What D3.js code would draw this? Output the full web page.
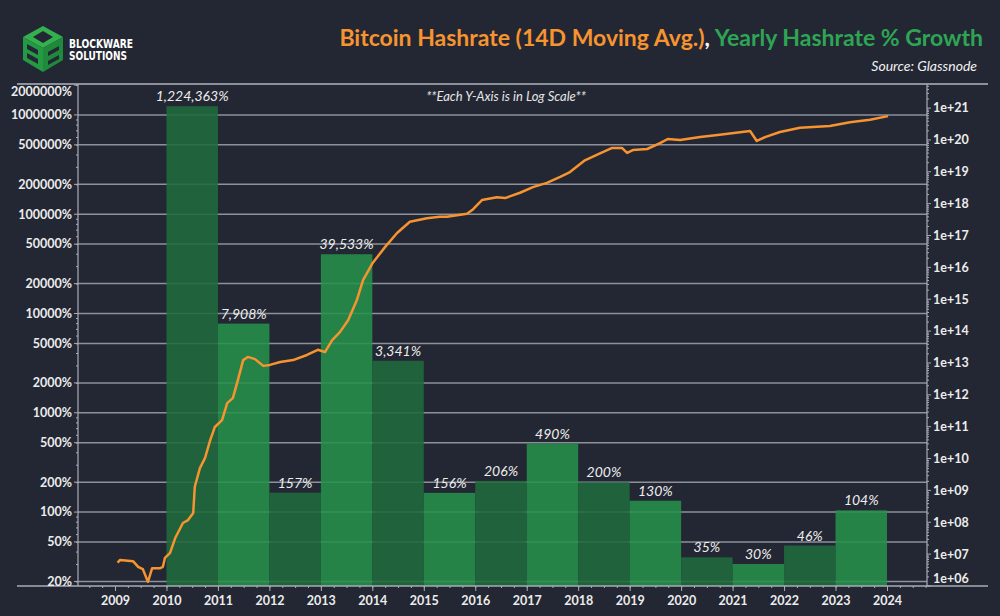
<!DOCTYPE html>
<html>
<head>
<meta charset="utf-8">
<script src="https://cdn.jsdelivr.net/npm/d3@7"></script>
<style>
body { margin: 0; background: #232733; }
svg { display: block; font-family: Lato, "Open Sans", sans-serif; }
</style>
</head>
<body>
<svg id="chart" width="1000" height="616"></svg>
<script>
// yearly hashrate growth (bars span year -> year+1)
const barYears = [2010, 2011, 2012, 2013, 2014, 2015, 2016, 2017, 2018, 2019, 2020, 2021, 2022, 2023];
const growthPct = [1224363, 7908, 157, 39533, 3341, 156, 206, 490, 200, 130, 35, 30, 46, 104];

// hashrate 14D moving avg (H/s)
const hashYears = [2009.05, 2009.10, 2009.35, 2009.45, 2009.54, 2009.64, 2009.72, 2009.87, 2009.93, 2009.97,
    2010.07, 2010.17, 2010.32, 2010.42, 2010.52, 2010.55, 2010.65, 2010.75, 2010.85, 2010.94,
    2011.08, 2011.18, 2011.29, 2011.39, 2011.49, 2011.58, 2011.72, 2011.88, 2012.01, 2012.21,
    2012.46, 2012.73, 2012.94, 2013.08, 2013.22, 2013.37, 2013.53, 2013.70, 2013.82, 2014.01,
    2014.25, 2014.48, 2014.73, 2015.06, 2015.31, 2015.45, 2015.84, 2015.94, 2016.13, 2016.42,
    2016.58, 2016.87, 2017.12, 2017.39, 2017.65, 2017.84, 2018.13, 2018.36, 2018.66, 2018.85,
    2018.95, 2019.06, 2019.34, 2019.59, 2019.74, 2019.98, 2020.37, 2020.75, 2021.34, 2021.47,
    2021.63, 2021.92, 2022.31, 2022.89, 2023.28, 2023.67, 2024.02];
const hashRate = [5.4e6, 6.6e6, 6.0e6, 4.0e6, 3.4e6, 1.35e6, 3.6e6, 3.6e6, 4.0e6, 7.6e6,
    1.1e7, 3.2e7, 9.5e7, 1.17e8, 1.95e8, 1.3e9, 5.0e9, 1.05e10, 3.8e10, 9.8e10,
    1.6e11, 5.5e11, 7.9e11, 3.0e12, 1.23e13, 1.55e13, 1.32e13, 8.1e12, 8.7e12, 1.07e13,
    1.23e13, 1.78e13, 2.6e13, 2.2e13, 5.2e13, 9.3e13, 2.2e14, 9.5e14, 4.0e15, 1.4e16,
    4.4e16, 1.2e17, 2.7e17, 3.5e17, 3.9e17, 3.9e17, 4.8e17, 6.3e17, 1.3e18, 1.6e18,
    1.5e18, 2.2e18, 3.3e18, 4.5e18, 6.9e18, 9.8e18, 2.3e19, 3.4e19, 5.6e19, 5.6e19,
    3.9e19, 4.8e19, 5.2e19, 7.9e19, 1.07e20, 1.0e20, 1.23e20, 1.45e20, 1.9e20, 9.3e19,
    1.23e20, 1.78e20, 2.4e20, 2.75e20, 3.6e20, 4.3e20, 5.6e20];

// tick labels
const xTicks = [2009, 2010, 2011, 2012, 2013, 2014, 2015, 2016, 2017, 2018, 2019, 2020, 2021, 2022, 2023, 2024];
const leftTicks = [20, 50, 100, 200, 500, 1000, 2000, 5000, 10000, 20000, 50000, 100000, 200000, 500000, 1000000, 2000000];
const rightTicks = [1e6, 1e7, 1e8, 1e9, 1e10, 1e11, 1e12, 1e13, 1e14, 1e15, 1e16, 1e17, 1e18, 1e19, 1e20, 1e21];

const orange = "#f7942f", green = "#2ea554", axisColor = "#a9adb5", textColor = "#ececec";

var svg = d3.select("#chart"),
    plot = { left: 78, right: 927, top: 84, bottom: 586 };

svg.append("rect").attr("width", 1000).attr("height", 616).attr("fill", "#232733");

var x = d3.scaleLinear().domain([2009, 2024]).range([115, 887]);
var yL = d3.scaleLog().domain([18, 2050000]).range([plot.bottom, plot.top]);
var yR = d3.scaleLog().domain([1e6, 5.7e21]).range([plot.bottom, plot.top]);

// Gridlines (left axis)
svg.append("g").selectAll("line")
    .data(leftTicks.slice(0, -1))
    .enter().append("line")
    .attr("x1", plot.left).attr("x2", plot.right)
    .attr("y1", d => yL(d)).attr("y2", d => yL(d))
    .attr("stroke", "#8d919a").attr("stroke-width", 1.5);

// Bars
svg.append("g").selectAll("rect")
    .data(barYears)
    .enter().append("rect")
    .attr("x", d => x(d))
    .attr("width", d => x(d + 1) - x(d))
    .attr("y", (d, i) => yL(growthPct[i]))
    .attr("height", (d, i) => plot.bottom - yL(growthPct[i]))
    .attr("fill", (d, i) => i % 2 === 0 ? "#1f6b3c" : "#27914b")
    .attr("opacity", 0.88);

// Bar labels
svg.append("g").selectAll("text")
    .data(barYears)
    .enter().append("text")
    .attr("x", d => x(d + 0.5))
    .attr("y", (d, i) => yL(growthPct[i]) - 5)
    .attr("text-anchor", "middle")
    .attr("font-style", "italic")
    .attr("font-size", 14)
    .attr("fill", "#eeeeee")
    .text((d, i) => d3.format(",")(growthPct[i]) + "%");

// Hashrate line
var line = d3.line()
    .x((d, i) => x(hashYears[i]))
    .y(d => yR(d))
    .curve(d3.curveLinear);

svg.append("path")
    .datum(hashRate)
    .attr("d", line)
    .attr("fill", "none")
    .attr("stroke", orange)
    .attr("stroke-width", 2.5)
    .attr("stroke-linejoin", "round");

// Frame lines
svg.append("line").attr("x1", 17).attr("x2", 988).attr("y1", plot.top).attr("y2", plot.top)
    .attr("stroke", "#8d919a").attr("stroke-width", 2);
svg.append("line").attr("x1", 17).attr("x2", 988).attr("y1", plot.bottom).attr("y2", plot.bottom)
    .attr("stroke", axisColor).attr("stroke-width", 1.5);
svg.append("line").attr("x1", plot.left).attr("x2", plot.left).attr("y1", plot.top).attr("y2", plot.bottom)
    .attr("stroke", axisColor).attr("stroke-width", 1.2);
svg.append("line").attr("x1", plot.right).attr("x2", plot.right).attr("y1", plot.top).attr("y2", plot.bottom)
    .attr("stroke", axisColor).attr("stroke-width", 1.2);

// minor tick helper for log axes
function minorLog(scale) {
    var out = [], dom = scale.domain();
    for (var e = Math.floor(Math.log10(dom[0])); e <= Math.ceil(Math.log10(dom[1])); e++) {
        for (var m = 2; m <= 9; m++) {
            var v = m * Math.pow(10, e);
            if (v >= dom[0] && v <= dom[1]) out.push(v);
        }
    }
    return out;
}

//Left Axis
var leftAxis = svg.append("g").attr("transform", `translate(${plot.left},0)`);
leftAxis.call(d3.axisLeft(yL).tickValues(minorLog(yL)).tickSize(2).tickFormat(""));
leftAxis.call(g => g.select(".domain").remove());
leftAxis.selectAll("line").attr("stroke", axisColor);
svg.append("g").selectAll("line")
    .data(leftTicks)
    .enter().append("line")
    .attr("x1", plot.left - 4).attr("x2", plot.left)
    .attr("y1", d => yL(d)).attr("y2", d => yL(d))
    .attr("stroke", axisColor);
svg.append("g").selectAll("text")
    .data(leftTicks)
    .enter().append("text")
    .attr("x", plot.left - 6)
    .attr("y", d => Math.max(yL(d), 92))
    .attr("dy", "0.35em")
    .attr("text-anchor", "end")
    .attr("font-weight", "bold")
    .attr("font-size", 12.5)
    .attr("fill", textColor)
    .text(d => d + "%");

//Right Axis
var rightAxis = svg.append("g").attr("transform", `translate(${plot.right},0)`);
rightAxis.call(d3.axisRight(yR).tickValues(minorLog(yR)).tickSize(2).tickFormat(""));
rightAxis.call(g => g.select(".domain").remove());
rightAxis.selectAll("line").attr("stroke", axisColor);
svg.append("g").selectAll("line")
    .data(rightTicks)
    .enter().append("line")
    .attr("x1", plot.right).attr("x2", plot.right + 4)
    .attr("y1", d => yR(d)).attr("y2", d => yR(d))
    .attr("stroke", axisColor);
svg.append("g").selectAll("text")
    .data(rightTicks)
    .enter().append("text")
    .attr("x", plot.right + 6)
    .attr("y", d => Math.min(yR(d), 579))
    .attr("dy", "0.35em")
    .attr("font-weight", "bold")
    .attr("font-size", 12.5)
    .attr("fill", textColor)
    .text(d => "1e+" + String(Math.round(Math.log10(d))).padStart(2, "0"));

//X Axis
var quarters = d3.range(2008.5, 2024.8, 0.25);
var xAxis = svg.append("g").attr("transform", `translate(0,${plot.bottom})`);
xAxis.call(d3.axisBottom(x).tickValues(quarters).tickSize(2).tickFormat(""));
xAxis.call(g => g.select(".domain").remove());
xAxis.selectAll("line").attr("stroke", axisColor);
var xMajor = svg.append("g").attr("transform", `translate(0,${plot.bottom})`);
xMajor.call(d3.axisBottom(x).tickValues(xTicks).tickSize(5).tickPadding(5).tickFormat(d3.format("d")));
xMajor.call(g => g.select(".domain").remove());
xMajor.selectAll("line").attr("stroke", axisColor);
xMajor.selectAll("text")
    .attr("fill", textColor)
    .attr("font-family", "Lato, sans-serif")
    .attr("font-weight", "bold")
    .attr("font-size", 12.5);

// Note
svg.append("text")
    .attr("x", 506).attr("y", 101)
    .attr("text-anchor", "middle")
    .attr("font-style", "italic")
    .attr("font-size", 13)
    .attr("fill", "#e6e6e6")
    .text("**Each Y-Axis is in Log Scale**");

// Title
var title = svg.append("text")
    .attr("x", 983).attr("y", 46)
    .attr("text-anchor", "end")
    .attr("font-weight", "bold")
    .attr("font-size", 23);
title.append("tspan").attr("fill", orange).text("Bitcoin Hashrate (14D Moving Avg.)");
title.append("tspan").attr("fill", "#ffffff").text(", ");
title.append("tspan").attr("fill", green).text("Yearly Hashrate % Growth");

svg.append("text")
    .attr("x", 977).attr("y", 71)
    .attr("text-anchor", "end")
    .attr("font-style", "italic")
    .attr("font-size", 14)
    .attr("fill", "#f2f2f2")
    .text("Source: Glassnode");

// Logo
var logo = svg.append("g");
var T = [43, 26], UR = [63, 37], LR = [63, 60], B = [43, 72], LL = [23, 60], UL = [23, 37], C = [43, 48];
logo.append("polygon").attr("points", [T, UR, C, UL].join(" ")).attr("fill", "#34b04f");
logo.append("polygon").attr("points", [UL, C, B, LL].join(" ")).attr("fill", "#249a44");
logo.append("polygon").attr("points", [C, UR, LR, B].join(" ")).attr("fill", "#1f8a3c");
logo.append("polygon").attr("points", [[43, 31], [53, 37], [43, 43], [33, 37]].join(" ")).attr("fill", "#232733");
logo.append("polygon").attr("points", [[27, 44], [38, 50], [38, 55], [27, 49]].join(" ")).attr("fill", "#232733");
logo.append("polygon").attr("points", [[27, 53], [38, 59], [38, 64], [27, 58]].join(" ")).attr("fill", "#232733");
logo.append("polygon").attr("points", [[48, 52], [59, 46], [59, 50], [48, 56]].join(" ")).attr("fill", "#232733");
logo.append("polygon").attr("points", [[48, 61], [59, 55], [59, 59], [48, 65]].join(" ")).attr("fill", "#232733");
logo.append("text").attr("x", 69).attr("y", 48)
    .attr("font-family", "'DejaVu Sans', sans-serif").attr("font-weight", "bold").attr("font-size", 12)
    .attr("textLength", 64).attr("lengthAdjust", "spacingAndGlyphs")
    .attr("fill", "#ffffff").text("BLOCKWARE");
logo.append("text").attr("x", 69).attr("y", 60)
    .attr("font-family", "'DejaVu Sans', sans-serif").attr("font-weight", "bold").attr("font-size", 12)
    .attr("textLength", 58).attr("lengthAdjust", "spacingAndGlyphs")
    .attr("fill", "#ffffff").text("SOLUTIONS");
</script>
</body>
</html>
